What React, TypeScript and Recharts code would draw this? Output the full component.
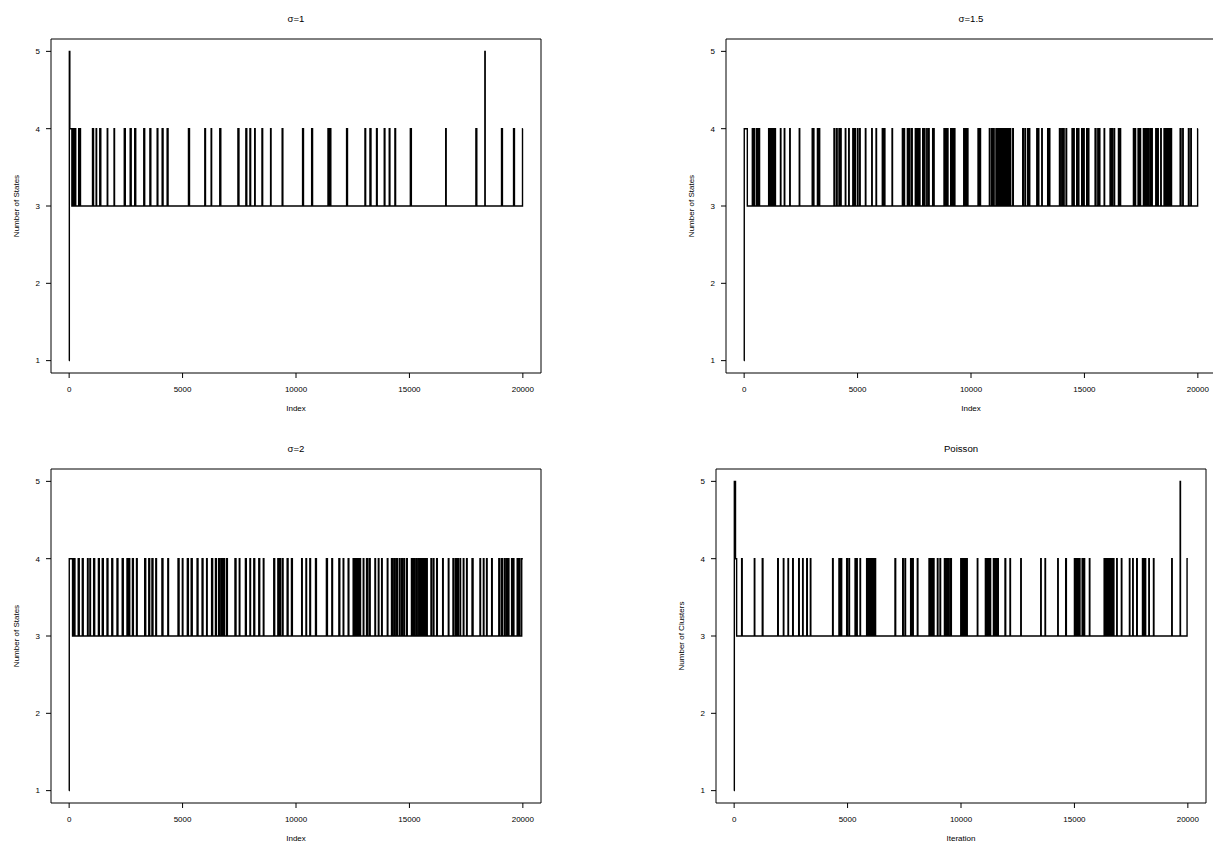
import React from "react";
import { LineChart, Line, XAxis, YAxis, ReferenceArea } from "recharts";

// iterations where the chain sits at 4 states: [start, length]
const sigma1Head = [[0, 1], [8, 5], [30, 4], [120, 3]];
const sigma1Spikes = [
  [170, 40], [240, 50], [420, 30], [470, 30], [1030, 45], [1190, 20], [1350, 45], [1680, 20],
  [1980, 20], [2430, 45], [2690, 45], [2890, 45], [3290, 40], [3560, 40], [3880, 30], [4100, 40],
  [4320, 40], [5260, 45], [5980, 30], [6260, 20], [6640, 45], [7440, 45], [7790, 40], [7970, 30],
  [8180, 20], [8500, 30], [8880, 20], [9390, 30], [10290, 40], [10690, 40], [11410, 45], [11490, 45],
  [12230, 40], [13040, 30], [13260, 45], [13550, 30], [13890, 30], [14110, 30], [14360, 30],
  [15040, 45], [16600, 20], [17930, 40], [19060, 40], [19590, 40],
];
const sigma1Peaks = [18325];
const sigma1Tail = 19985;

const sigma15Head = [[0, 1], [5, 4], [140, 3]];
const sigma15Spikes = [
  [360, 25], [440, 25], [550, 40], [640, 40], [1080, 25], [1140, 20], [1190, 25], [1245, 20],
  [1300, 25], [1360, 20], [1600, 20], [1770, 20], [2010, 20], [2430, 20], [3000, 30], [3050, 25],
  [3230, 40], [3290, 40], [3960, 30], [4070, 30], [4180, 20], [4255, 20], [4460, 20], [4610, 20],
  [4790, 20], [4870, 30], [4990, 30], [5095, 20], [5345, 20], [5625, 20], [5815, 20], [6090, 30],
  [6180, 25], [6520, 20], [6975, 30], [7045, 25], [7195, 30], [7280, 30], [7385, 25], [7545, 30],
  [7635, 30], [7725, 25], [7870, 30], [7945, 25], [8050, 20], [8135, 20], [8310, 30], [8355, 20],
  [8810, 40], [8900, 30], [8960, 25], [9105, 35], [9200, 30], [9265, 25], [9680, 40], [9760, 30],
  [9840, 25], [10310, 45], [10390, 30], [10810, 25], [10910, 25], [10990, 30], [11100, 30],
  [11180, 30], [11250, 30], [11310, 30], [11400, 40], [11500, 30], [11575, 30], [11650, 30],
  [11720, 30], [11840, 25], [12280, 30], [12380, 25], [12500, 30], [12570, 20], [12900, 25],
  [12970, 20], [13120, 20], [13380, 30], [13455, 20], [13900, 35], [14000, 25], [14075, 30],
  [14190, 25], [14455, 30], [14530, 20], [14660, 30], [14735, 20], [14880, 30], [14970, 20],
  [15100, 30], [15175, 20], [15470, 40], [15590, 20], [15660, 20], [15870, 20], [16130, 30],
  [16220, 20], [16310, 20], [16500, 30], [16575, 20], [17160, 20], [17235, 20], [17365, 30],
  [17455, 20], [17600, 40], [17700, 40], [17790, 40], [17895, 30], [17970, 20], [18145, 30],
  [18235, 20], [18365, 20], [18510, 30], [18600, 20], [18660, 30], [18745, 20], [18820, 20],
  [19220, 40], [19335, 20], [19585, 30], [19690, 20],
];
const sigma15Peaks: number[] = [];
const sigma15Tail = 19990;

const sigma2Head = [[0, 1], [5, 4], [150, 3]];
const sigma2Spikes = [
  [210, 45], [400, 45], [580, 40], [810, 25], [915, 25], [1080, 45], [1290, 40], [1460, 45],
  [1670, 40], [1880, 40], [2110, 40], [2340, 45], [2550, 30], [2640, 30], [2790, 40], [2970, 30],
  [3330, 45], [3510, 40], [3650, 45], [3820, 30], [4090, 45], [4350, 30], [4800, 45], [4990, 25],
  [5210, 45], [5380, 45], [5640, 40], [5860, 40], [6060, 25], [6280, 45], [6450, 40], [6590, 45],
  [6700, 45], [6800, 40], [6930, 45], [7310, 45], [7500, 25], [7770, 40], [7970, 25], [8140, 40],
  [8360, 40], [8560, 25], [9020, 40], [9200, 45], [9280, 30], [9390, 40], [9610, 40], [9800, 40],
  [10250, 25], [10440, 25], [10610, 30], [10860, 40], [11340, 45], [11580, 30], [11890, 40],
  [12080, 25], [12300, 30], [12520, 45], [12620, 40], [12720, 45], [12820, 25], [12965, 25],
  [13110, 45], [13230, 40], [13480, 25], [13630, 25], [13775, 25], [14025, 25], [14210, 45],
  [14320, 45], [14430, 40], [14555, 25], [14650, 45], [14760, 30], [14880, 25], [15090, 45],
  [15190, 45], [15300, 45], [15410, 45], [15500, 45], [15600, 45], [15690, 25], [15760, 25],
  [15950, 25], [16050, 30], [16200, 30], [16465, 25], [16715, 25], [16920, 45], [17040, 40],
  [17125, 30], [17230, 25], [17375, 25], [17520, 25], [17760, 45], [18110, 25], [18260, 25],
  [18400, 25], [18625, 25], [18940, 45], [19065, 30], [19180, 40], [19285, 25], [19360, 25],
  [19505, 25], [19580, 25], [19750, 45], [19845, 30],
];
const sigma2Peaks: number[] = [];
const sigma2Tail = 19950;

const poissonHead = [[0, 1], [8, 5], [60, 4], [110, 3]];
const poissonSpikes = [
  [330, 25], [890, 20], [1240, 30], [1920, 25], [2170, 20], [2375, 20], [2580, 25], [2845, 25],
  [3020, 20], [3200, 25], [3360, 20], [4340, 25], [4620, 40], [4710, 30], [4960, 30], [5060, 25],
  [5330, 30], [5400, 25], [5550, 20], [5840, 30], [5915, 30], [5990, 30], [6060, 30], [6135, 30],
  [6210, 25], [7090, 30], [7430, 25], [7530, 25], [7780, 30], [7870, 25], [8075, 25], [8590, 40],
  [8680, 40], [8780, 30], [8960, 25], [9075, 25], [9270, 40], [9355, 40], [9440, 40], [9545, 30],
  [9990, 30], [10075, 30], [10165, 30], [10250, 25], [10720, 20], [11075, 25], [11135, 25],
  [11210, 25], [11280, 25], [11430, 40], [11515, 40], [11615, 30], [11940, 30], [12160, 20],
  [12635, 20], [13515, 20], [13705, 20], [14265, 20], [14615, 30], [15000, 30], [15070, 30],
  [15145, 30], [15220, 25], [15340, 25], [15425, 25], [15660, 20], [16310, 30], [16395, 30],
  [16485, 25], [16570, 25], [16645, 25], [16720, 20], [16865, 20], [17070, 20], [17425, 20],
  [17570, 20], [17745, 25], [18000, 30], [18055, 30], [18115, 25], [18280, 20], [18485, 20],
  [19290, 20],
];
const poissonPeaks = [19660];
const poissonTail = 19965;

const xTicks = [0, 5000, 10000, 15000, 20000];
const yTicks = [1, 2, 3, 4, 5];
const N_ITER = 20000;

function buildSeries(head, spikes, peaks, tail) {
  const events = [];
  spikes.forEach(([s, w]) => {
    events.push({ x: s, y: 4 }, { x: s + w, y: 3 });
  });
  peaks.forEach((p) => {
    events.push({ x: p, y: 5 }, { x: p + 15, y: 3 });
  });
  events.sort((a, b) => a.x - b.x);
  return [
    ...head.map(([x, y]) => ({ x, y })),
    ...events,
    { x: tail, y: 4 },
    { x: N_ITER, y: 4 },
  ];
}

const panels = [
  { title: "σ=1", xLabel: "Index", yLabel: "Number of States", left: 0, top: 0,
    data: buildSeries(sigma1Head, sigma1Spikes, sigma1Peaks, sigma1Tail) },
  { title: "σ=1.5", xLabel: "Index", yLabel: "Number of States", left: 675, top: 0,
    data: buildSeries(sigma15Head, sigma15Spikes, sigma15Peaks, sigma15Tail) },
  { title: "σ=2", xLabel: "Index", yLabel: "Number of States", left: 0, top: 430,
    data: buildSeries(sigma2Head, sigma2Spikes, sigma2Peaks, sigma2Tail) },
  { title: "Poisson", xLabel: "Iteration", yLabel: "Number of Clusters", left: 665, top: 430,
    data: buildSeries(poissonHead, poissonSpikes, poissonPeaks, poissonTail) },
];

const FONT = '"Liberation Sans", Arial, Helvetica, sans-serif';

function YTitle({ value }) {
  return (
    <text x={19} y={206} transform="rotate(-90 19 206)" textAnchor="middle" fontSize={8} fill="#000">
      {value}
    </text>
  );
}

function XTitle({ value }) {
  return (
    <text x={296} y={411} textAnchor="middle" fontSize={8} fill="#000">
      {value}
    </text>
  );
}

function Panel({ p }) {
  return (
    <div style={{ position: "absolute", left: p.left, top: p.top, width: 600, height: 420 }}>
      <div
        style={{
          position: "absolute", left: 51, top: 13, width: 490, textAlign: "center",
          fontSize: 9.6, lineHeight: "12px", color: "#000",
        }}
      >
        {p.title}
      </div>
      <LineChart width={600} height={420} data={p.data} margin={{ top: 39, right: 59, bottom: 0, left: 0 }}>
        <XAxis
          dataKey="x" type="number" domain={[-800, 20800]} ticks={xTicks} allowDataOverflow
          height={47} axisLine={false} tickSize={5} tickMargin={8}
          tickLine={{ stroke: "#000" }} tick={{ fontSize: 8, fill: "#000" }}
          label={<XTitle value={p.xLabel} />}
        />
        <YAxis
          dataKey="y" type="number" domain={[0.84, 5.16]} ticks={yTicks} allowDataOverflow
          width={51} axisLine={false} tickSize={5} tickMargin={6}
          tickLine={{ stroke: "#000" }} tick={{ fontSize: 8, fill: "#000" }}
          label={<YTitle value={p.yLabel} />}
        />
        <ReferenceArea x1={-800} x2={20800} y1={0.84} y2={5.16} fill="none" stroke="#000" strokeWidth={1} />
        <Line
          type="stepAfter" dataKey="y" stroke="#000" strokeWidth={1.4}
          dot={false} activeDot={false} isAnimationActive={false}
        />
      </LineChart>
    </div>
  );
}

export default function App() {
  return (
    <div
      style={{
        position: "absolute", left: 0, top: 0, width: 1213, height: 846, overflow: "hidden",
        background: "#fff", fontFamily: FONT,
      }}
    >
      {panels.map((p) => (
        <Panel key={p.title} p={p} />
      ))}
    </div>
  );
}
